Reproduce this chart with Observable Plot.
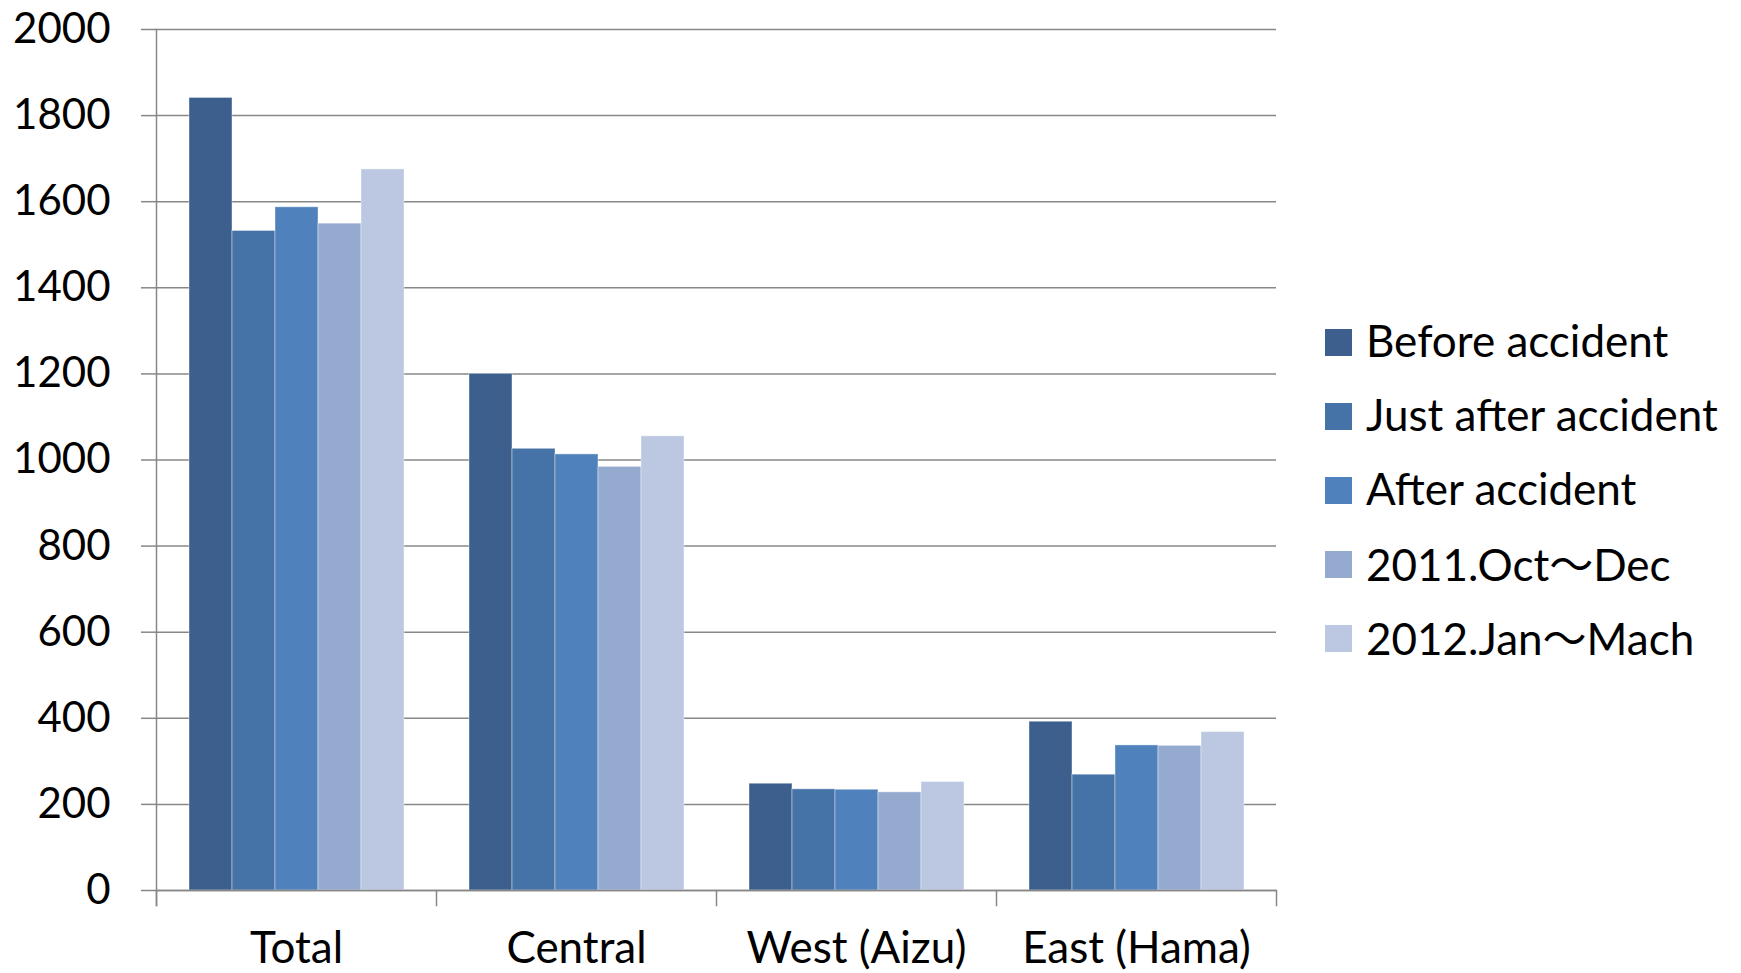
<!DOCTYPE html>
<html>
<head>
<meta charset="utf-8">
<script src="https://cdn.jsdelivr.net/npm/d3@7"></script>
<script src="https://cdn.jsdelivr.net/npm/@observablehq/plot@0.6"></script>
<style>
  html, body { margin: 0; padding: 0; background: #fff; }
  #wrap { position: relative; width: 1741px; height: 973px; overflow: hidden; }
  #legend { position: absolute; left: 1325px; top: 318px; font-family: Lato, "Noto Sans CJK JP", sans-serif; font-size: 44px; color: #000; }
  .item { display: flex; align-items: center; height: 49px; margin-bottom: 25px; white-space: nowrap; }
  .item span { position: relative; top: -3px; }
  .sw { width: 27px; height: 27px; margin-right: 14px; flex: none; }
</style>
</head>
<body>
<div id="wrap"><div id="legend"></div></div>
<script>
const categories = ["Total", "Central", "West (Aizu)", "East (Hama)"];
const series = ["Before accident", "Just after accident", "After accident", "2011.Oct\uFF5EDec", "2012.Jan\uFF5EMach"];
const colors = ["#3C5F8D", "#4572A7", "#4F81BC", "#95AACF", "#BCC8E1"];
// values[series][category]
const values = [
  [1841, 1200, 248, 392],
  [1532, 1026, 235, 269],
  [1587, 1013, 234, 337],
  [1549, 984, 228, 336],
  [1675, 1055, 252, 368]
];
const yTicks = [0, 200, 400, 600, 800, 1000, 1200, 1400, 1600, 1800, 2000];

const rows = categories.flatMap((c, i) => series.map((s, j) => ({category: c, series: s, value: values[j][i]})));

const W = 1741, H = 973, mt = 29, mb = 83, ml = 155, mr = 464;
const innerH = H - mt - mb;
const gray = "#878787";
const font = "Lato, 'Noto Sans CJK JP', sans-serif";

const chart = Plot.plot({
  width: W, height: H,
  marginTop: mt, marginBottom: mb, marginLeft: ml, marginRight: mr,
  style: {fontFamily: font, fontSize: "43px", color: "#000", background: "#fff"},
  fx: {domain: categories, padding: 0, label: null, axis: null},
  x: {domain: series, paddingInner: 0, paddingOuter: 0.75, axis: null},
  y: {domain: [0, 2000], label: null},
  color: {domain: series, range: colors},
  marks: [
    Plot.gridY(yTicks, {stroke: gray, strokeOpacity: 1, strokeWidth: 1.5}),
    Plot.axisY(yTicks, {tickSize: 15, tickPadding: 31, stroke: gray, strokeWidth: 1.5, fill: "#000", fontSize: 42, label: null, tickFormat: d => String(d)}),
    Plot.barY(rows, {fx: "category", x: "series", y: "value", fill: "series", inset: 0, stroke: "#fff", strokeOpacity: 0.4, strokeWidth: 1}),
    Plot.ruleY([0], {stroke: gray, strokeWidth: 1.5}),
    Plot.frame({anchor: "left", facetAnchor: "left", insetBottom: -15, stroke: gray, strokeWidth: 1.5}),
    Plot.frame({anchor: "left", insetTop: innerH, insetBottom: -15, stroke: gray, strokeWidth: 1.5}),
    Plot.frame({anchor: "right", facetAnchor: "right", insetTop: innerH, insetBottom: -15, stroke: gray, strokeWidth: 1.5}),
    Plot.axisFx({anchor: "bottom", tickSize: 0, tickPadding: 41, fontSize: 44, fill: "#000", label: null})
  ]
});
document.getElementById("wrap").prepend(chart);
chart.style.position = "absolute";
chart.style.left = "0";
chart.style.top = "0";

const legend = document.getElementById("legend");
series.forEach((s, i) => {
  const item = document.createElement("div");
  item.className = "item";
  const sw = document.createElement("div");
  sw.className = "sw";
  sw.style.background = colors[i];
  const t = document.createElement("span");
  t.textContent = s;
  item.append(sw, t);
  legend.append(item);
});
</script>
</body>
</html>
